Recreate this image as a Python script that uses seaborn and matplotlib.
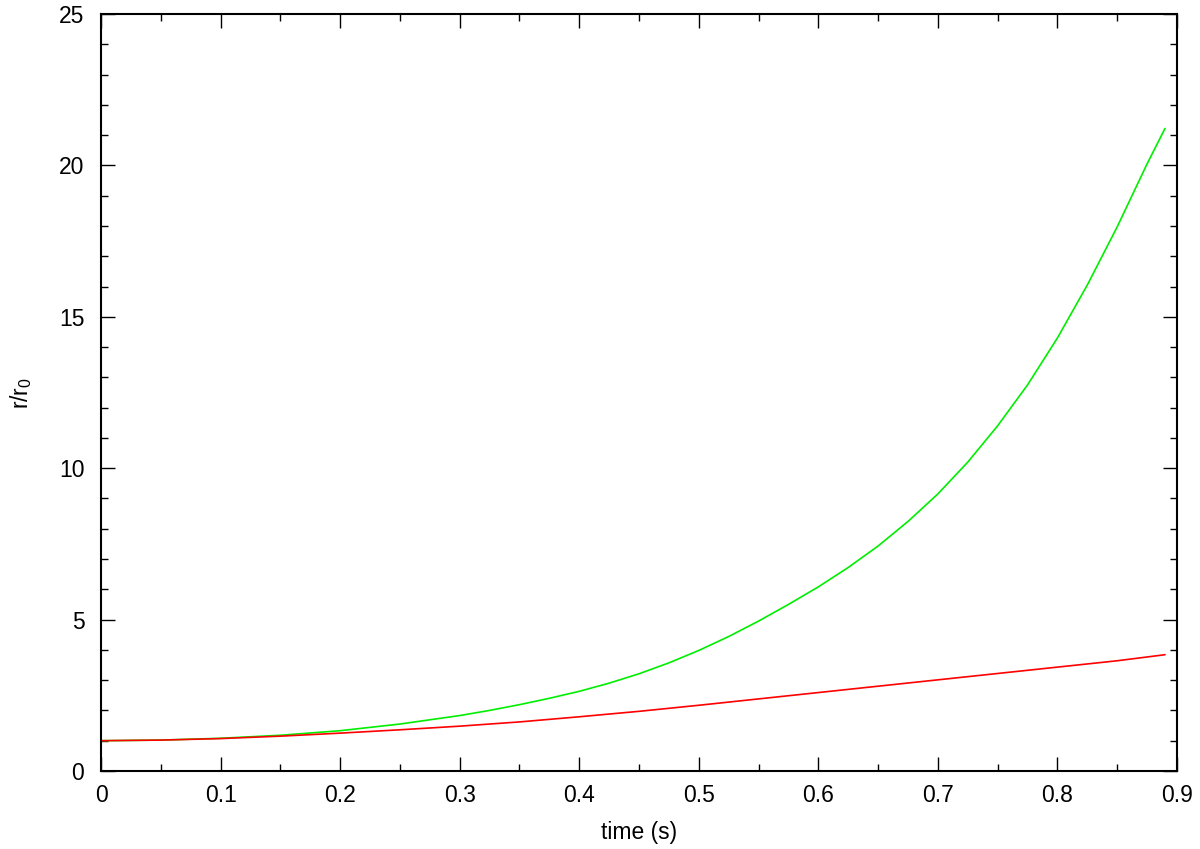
import numpy as np
import pandas as pd
import matplotlib
matplotlib.use("Agg")
import matplotlib.pyplot as plt
import seaborn as sns
from matplotlib.ticker import MultipleLocator, FuncFormatter

# values
time_green = [0.0, 0.05, 0.1, 0.15, 0.2, 0.25, 0.3, 0.325, 0.35, 0.375,
              0.4, 0.425, 0.45, 0.475, 0.5, 0.525, 0.55, 0.575, 0.6, 0.625,
              0.65, 0.675, 0.7, 0.725, 0.75, 0.775, 0.8, 0.825, 0.85, 0.875, 0.89]
r_green = [1.0, 1.02, 1.08, 1.18, 1.33, 1.55, 1.83, 2.0, 2.19, 2.4,
           2.63, 2.9, 3.21, 3.57, 3.98, 4.44, 4.95, 5.5, 6.08, 6.72,
           7.43, 8.24, 9.15, 10.2, 11.4, 12.75, 14.3, 16.05, 17.97, 20.05, 21.22]
time_red = [0.0, 0.05, 0.1, 0.15, 0.2, 0.25, 0.3, 0.35, 0.4, 0.45,
            0.5, 0.55, 0.6, 0.65, 0.7, 0.75, 0.8, 0.85, 0.89]
r_red = [1.0, 1.02, 1.07, 1.15, 1.25, 1.36, 1.48, 1.62, 1.79, 1.97,
         2.17, 2.38, 2.59, 2.8, 3.01, 3.22, 3.43, 3.64, 3.84]
series_names = ["green", "red"]
series_colors = ["#00ee00", "#ff0000"]

df = pd.DataFrame({
    "time": time_green + time_red,
    "r": r_green + r_red,
    "series": [series_names[0]] * len(time_green) + [series_names[1]] * len(time_red),
})

sns.set_style("ticks")
plt.rcParams["font.family"] = ["Liberation Sans", "DejaVu Sans"]
plt.rcParams["mathtext.fontset"] = "custom"
plt.rcParams["mathtext.rm"] = "Liberation Sans"
plt.rcParams["mathtext.default"] = "regular"
plt.rcParams["text.color"] = "black"
plt.rcParams["axes.labelcolor"] = "black"
plt.rcParams["xtick.color"] = "black"
plt.rcParams["ytick.color"] = "black"

fig = plt.figure(figsize=(12, 8.49), dpi=100)
ax = fig.add_axes([0.0842, 0.0919, 0.8966, 0.8916])

sns.lineplot(data=df, x="time", y="r", hue="series", palette=series_colors,
             linewidth=1.2, legend=False, sort=True, ax=ax)

ax.set_xlim(0, 0.9)
ax.set_ylim(0, 25)
ax.xaxis.set_major_locator(MultipleLocator(0.1))
ax.xaxis.set_minor_locator(MultipleLocator(0.05))
ax.yaxis.set_major_locator(MultipleLocator(5))
ax.yaxis.set_minor_locator(MultipleLocator(1))
ax.xaxis.set_major_formatter(FuncFormatter(lambda v, p: f"{v:g}"))

ax.tick_params(which="both", direction="in", top=True, right=True, labelsize=16.5,
               width=1.0)
ax.tick_params(which="major", length=10)
ax.tick_params(which="minor", length=5)
ax.tick_params(axis="x", pad=9.5)
ax.tick_params(axis="y", pad=12)
for s in ax.spines.values():
    s.set_linewidth(1.5)
    s.set_color("black")

ax.set_xlabel("time (s)", fontsize=16.5)
ax.set_ylabel("r/r$_0$", fontsize=16.5)
ax.xaxis.set_label_coords(0.5, -0.066)
ax.yaxis.set_label_coords(-0.062, 0.5)

fig.savefig("out.png", dpi=100)
